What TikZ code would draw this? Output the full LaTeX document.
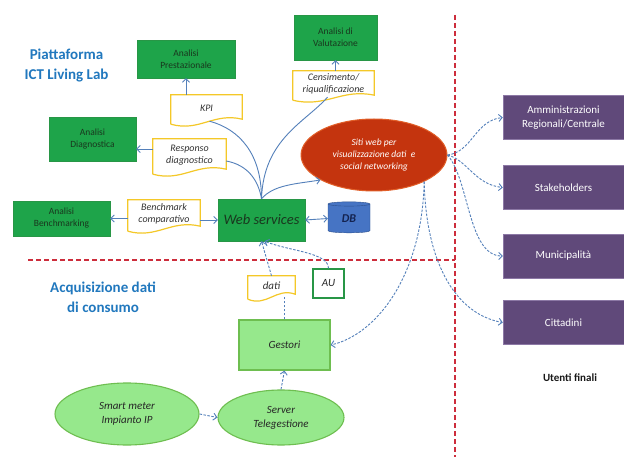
\documentclass[tikz,border=0pt]{standalone}
\usepackage{fontspec}
\setmainfont{Carlito}
\usetikzlibrary{shapes.geometric,arrows.meta,calc}
\definecolor{gfill}{RGB}{30,164,74}
\definecolor{gborder}{RGB}{40,150,70}
\definecolor{gtext}{RGB}{25,55,30}
\definecolor{lgf}{RGB}{150,232,140}
\definecolor{lgb}{RGB}{110,190,80}
\definecolor{docy}{RGB}{244,200,40}
\definecolor{purp}{RGB}{96,73,122}
\definecolor{purpb}{RGB}{140,120,165}
\definecolor{ablue}{RGB}{84,128,186}
\definecolor{rdash}{RGB}{205,45,60}
\definecolor{redf}{RGB}{196,52,14}
\definecolor{redb}{RGB}{225,95,40}
\definecolor{dbf}{RGB}{70,116,196}
\definecolor{dbb}{RGB}{45,80,140}
\definecolor{dbtext}{RGB}{20,35,80}
\definecolor{titleblue}{RGB}{33,120,190}
\newcommand{\docframe}[1]{%
  \draw[docline] ($(#1.south west)+(0,3)$) -- (#1.north west) -- (#1.north east) -- ($(#1.south east)+(0,-2)$)
   .. controls ($(#1.south east)!0.4!(#1.south west)+(0,-9)$) and ($(#1.south east)!0.6!(#1.south west)+(0,11)$) .. ($(#1.south west)+(0,3)$);}
\begin{document}
\begin{tikzpicture}[x=1pt,y=-1pt,
  gbox/.style={draw=gborder, fill=gfill, text=gtext, align=center, inner sep=1pt, font=\fontsize{9.5}{12}\selectfont},
  docn/.style={align=center, inner sep=1pt, text=black!80, font=\itshape\fontsize{10}{12}\selectfont},
  docline/.style={draw=docy, line width=1.2pt},
  pbox/.style={fill=purp, draw=purpb, text=white, align=center, inner sep=1pt, minimum width=121pt, minimum height=44pt, font=\fontsize{11}{14}\selectfont},
  lgnode/.style={fill=lgf, draw=lgb, line width=1.1pt, align=center, inner sep=0pt, text=black!85, font=\itshape\fontsize{11}{14}\selectfont},
  conn/.style={draw=ablue, line width=0.9pt},
  arr/.style={conn, -{Straight Barb[length=3.5pt,width=7pt]}},
  darr/.style={conn, {Straight Barb[length=3.5pt,width=7pt]}-{Straight Barb[length=3.5pt,width=7pt]}},
  dconn/.style={conn, dash pattern=on 2.5pt off 1.5pt},
  dash arr/.style={dconn, -{Straight Barb[length=3.5pt,width=7pt]}},
  reddash/.style={draw=rdash, line width=1.3pt, dash pattern=on 5pt off 3pt},
  title/.style={text=titleblue, align=center, font=\bfseries\fontsize{15}{20}\selectfont}
]
\useasboundingbox (0,0) rectangle (624,457);
\fill[white] (0,0) rectangle (624,457);

% separators
\coordinate (hl) at (28,260);
\coordinate (vt) at (455,15);
\coordinate (vb) at (455,457);
\draw[reddash] (hl) -- (hl -| vt);
\draw[reddash] (vt) -- (vb);

% titles
\node[title] (t1) at (66.5,65.5) {Piattaforma\\ICT Living Lab};
\node[title] (t2) at (103,297.5) {Acquisizione dati\\di consumo};
\node[font=\bfseries\fontsize{11}{13}\selectfont, text=black!90] (uf) at (570,378) {Utenti finali};

% green boxes
\node[gbox, minimum width=98pt, minimum height=38pt] (prest) at (186,59) {Analisi\\Prestazionale};
\node[gbox, minimum width=83pt, minimum height=45pt] (val) at (335.5,37.5) {Analisi di\\Valutazione};
\node[gbox, minimum width=87pt, minimum height=44pt] (diag) at (92.5,139) {Analisi\\Diagnostica};
\node[gbox, minimum width=97pt, minimum height=35pt] (abench) at (61.5,218.5) {Analisi\\Benchmarking};
\node[gbox, minimum width=87pt, minimum height=42pt, font=\itshape\fontsize{14.5}{16}\selectfont] (ws) at (261.5,220) {Web services};

% documents
\node[docn, minimum width=81pt, minimum height=26pt] (cens) at (333.5,84) {Censimento/\\riqualificazione};
\node[docn, minimum width=71pt, minimum height=26pt] (kpi) at (206.5,108) {KPI};
\node[docn, minimum width=73pt, minimum height=32pt] (resp) at (189.5,155) {Responso\\diagnostico};
\node[docn, minimum width=72pt, minimum height=28pt] (bench) at (164,214) {Benchmark\\comparativo};
\node[docn, minimum width=47pt, minimum height=20pt, font=\itshape\fontsize{11}{13}\selectfont] (dati) at (271.5,286) {dati};
\docframe{cens}
\docframe{kpi}
\docframe{resp}
\docframe{bench}
\docframe{dati}

\node[draw=gborder, line width=1.2pt, minimum width=31pt, minimum height=29pt, inner sep=0pt, text=black!85, font=\itshape\fontsize{11}{13}\selectfont] (au) at (328.5,283.5) {AU};

\node[cylinder, shape border rotate=90, aspect=0.3, draw=dbb, fill=dbf, minimum width=42pt, minimum height=31pt, inner sep=0pt, text=dbtext, font=\itshape\bfseries\fontsize{12}{14}\selectfont] (db) at (349,218.5) {DB};

% red ellipse
\node[ellipse, fill=redf, draw=redb, line width=1pt, minimum width=146pt, minimum height=72pt, inner sep=0pt, text=white, align=center, font=\itshape\fontsize{9.5}{12}\selectfont] (web) at (374,155) {Siti web per\\visualizzazione dati\ \ e\\social networking};

% lower nodes
\node[lgnode, minimum width=91pt, minimum height=50pt] (gest) at (284.5,345) {Gestori};
\node[lgnode, ellipse, minimum width=144pt, minimum height=62pt] (smart) at (127,414) {Smart meter\\Impianto IP};
\node[lgnode, ellipse, minimum width=126pt, minimum height=55pt] (server) at (281,417.5) {Server\\Telegestione};

% purple boxes
\node[pbox] (amm) at (563.5,117.5) {Amministrazioni\\Regionali/Centrale};
\node[pbox] (stake) at (563.5,187.5) {Stakeholders};
\node[pbox] (muni) at (563.5,256) {Municipalità};
\node[pbox] (citt) at (563.5,322.5) {Cittadini};

% connectors: web services fan
\draw[conn] ([xshift=3pt]kpi.south) .. controls +(30,8) and +(0,-45) .. (ws.north);
\draw[conn] ([yshift=-6pt]resp.east) .. controls +(22,4) and +(-3,-18) .. (ws.north);
\draw[conn] ([xshift=-6pt]cens.south) .. controls +(-22,25) and +(2,-60) .. (ws.north);
\draw[arr] (ws.north) .. controls +(12,-14) and +(-25,4) .. (web.205);

\draw[arr] (kpi.north -| prest.south) -- (prest.south);
\draw[arr] ([yshift=6pt]resp.west) -- ([yshift=6pt]resp.west -| diag.east);
\draw[arr] (cens.north -| val.south) -- (val.south);
\draw[arr] (bench.west |- abench.east) -- (abench.east);
\draw[arr] (bench.east |- ws.west) -- (ws.west);
\draw[darr] (ws.east) -- (db.west);

% acquisition
\draw[dconn] (gest.north) -- (gest.north |- dati.south);
\draw[dash arr] (dati.north) -- (ws.south);
\draw[dash arr] (au.north) .. controls +(0,-16) and +(25,10) .. ([xshift=3pt]ws.south);
\draw[dash arr] (web.-28) .. controls +(-2,95) and +(45,-10) .. (gest.east);
\draw[dash arr] (smart.east) -- (server.west);
\draw[dash arr] (server.north) -- (gest.south);

% users
\draw[dash arr] (web.east) .. controls +(25,-3) and +(-28,3) .. (amm.west);
\draw[dash arr] (web.east) .. controls +(20,5) and +(-28,-3) .. (stake.west);
\draw[dash arr] (web.east) .. controls +(22,25) and +(-35,0) .. (muni.west);
\draw[dash arr] (web.-28) .. controls +(2,85) and +(-45,-8) .. (citt.west);
\end{tikzpicture}
\end{document}
